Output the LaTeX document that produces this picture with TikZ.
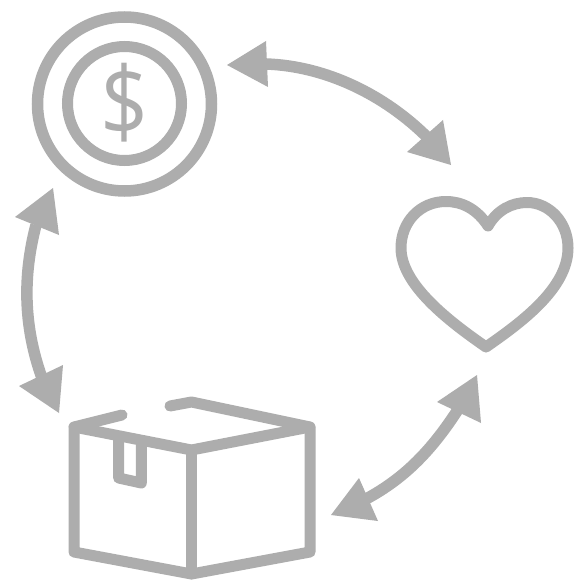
\documentclass[tikz,border=0pt]{standalone}
\usepackage{fontspec}
\setmainfont{Open Sans}
\definecolor{icon}{HTML}{ADADAD}
\tikzset{
  iconline/.style={draw=icon,line width=11pt,line join=round,line cap=round},
  shaft/.style={draw=icon,line width=11.5pt,line cap=butt},
  head/.style={fill=icon,draw=none}
}
\begin{document}
\begin{tikzpicture}[x=1pt,y=-1pt]
\useasboundingbox (0,0) rectangle (573,580);
\fill[white] (0,0) rectangle (573,580);
% coin
\draw[draw=icon,line width=11.5pt] (124.5,104) circle[radius=87];
\draw[draw=icon,line width=11pt] (124.5,103.5) circle[radius=57];
\node[text=icon,inner sep=0pt,font=\fontsize{84}{84}\selectfont] (dollar) at (125,103) {\scalebox{1}[1.15]{\$}};
% heart
\draw[iconline] (488,226) .. controls (477,209) and (462,201.5) .. (446,201.5)
  .. controls (420,201.5) and (401,222) .. (401,248)
  .. controls (401,285) and (450,322) .. (486,347)
  .. controls (522,322) and (568,288) .. (568,248)
  .. controls (568,222) and (549,202.5) .. (527,202.5)
  .. controls (512,202.5) and (497,210) .. cycle;
% box
\draw[iconline] (122,415) -- (74,427) -- (74,552) -- (191.5,574) -- (310,552) -- (310,427) -- (191.5,402) -- (170,406);
\draw[iconline] (74,427) -- (191.5,450) -- (310,427);
\draw[iconline] (191.5,450) -- (191.5,574);
\draw[iconline] (118.7,438) -- (118.7,478) -- (141.3,483) -- (141.3,444);
% arrows
\coordinate (a1) at (266,64);
\coordinate (a2) at (428,138);
\draw[shaft] (a1) .. controls (326,66) and (385,95) .. (a2);
\fill[head] (227,65) -- (266,41) -- (268,87) -- cycle;
\fill[head] (451,165) -- (407,152) -- (443,120) -- cycle;
\coordinate (b1) at (36,225);
\coordinate (b2) at (42,378);
\draw[shaft] (b1) .. controls (23,275) and (23,325) .. (b2);
\fill[head] (53,188) -- (15,217) -- (59,235) -- cycle;
\fill[head] (59,413) -- (19,386) -- (63,365) -- cycle;
\coordinate (c1) at (459,408);
\coordinate (c2) at (366,499);
\draw[shaft] (c1) .. controls (432,450) and (405,478) .. (c2);
\fill[head] (477,375) -- (437,402) -- (481,423) -- cycle;
\fill[head] (331,515) -- (359,478) -- (378,521) -- cycle;
\end{tikzpicture}
\end{document}
